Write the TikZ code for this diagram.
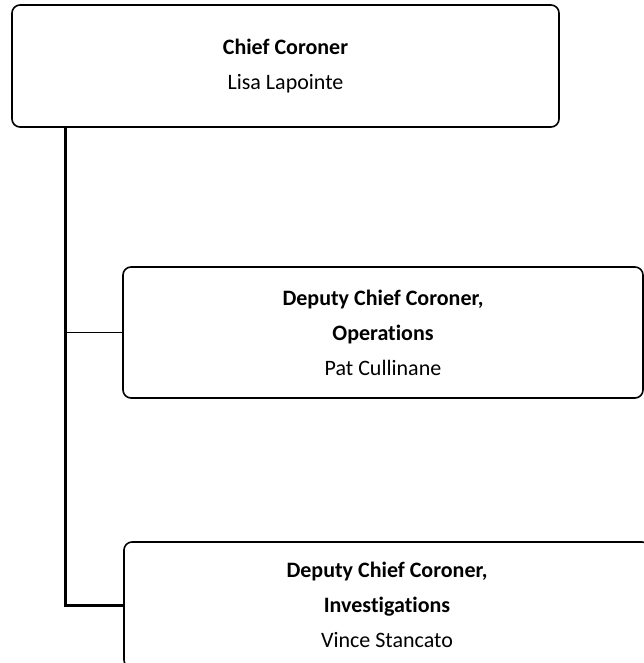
\documentclass[tikz,border=0pt]{standalone}
\usepackage{fontspec}
\setmainfont{Carlito}[Ligatures={NoCommon}]
\usepackage{tikz}
\usetikzlibrary{positioning, calc}

\begin{document}
\begin{tikzpicture}[x=1pt, y=-1pt,
  office/.style={draw=black, fill=white, rounded corners=8pt, line width=1.6pt, font=\fontsize{22}{35}\selectfont, align=center, inner sep=0pt},
  link/.style={draw=black, line width=3pt}]
\useasboundingbox (0,0) rectangle (644,663);
\clip (0,0) rectangle (644,663);

\node[office, minimum width=547pt, minimum height=122pt] (chief) at (285.5,66) {\textbf{Chief Coroner}\\Lisa Lapointe};
\node[office, minimum width=520pt, minimum height=131pt] (ops) at (383,332.5) {\textbf{Deputy Chief Coroner,}\\\textbf{Operations}\\Pat Cullinane};
\node[office, minimum width=526pt, minimum height=126pt] (inv) at (387,605) {\textbf{Deputy Chief Coroner,}\\\textbf{Investigations}\\Vince Stancato};

\coordinate (spine) at ($(chief.south west)+(54,0)$);
\draw[link] (spine) |- (inv.west);
\draw[link, line width=1.3pt] (spine) |- (ops.west);
\end{tikzpicture}
\end{document}
